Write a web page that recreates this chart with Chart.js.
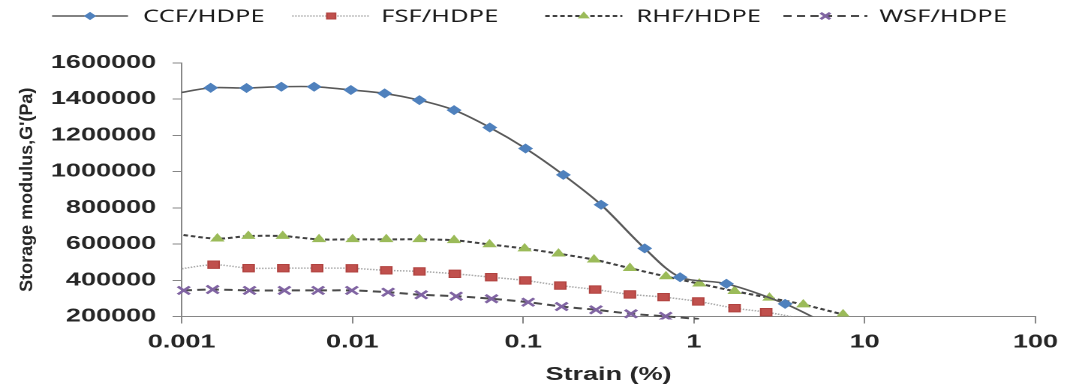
<!DOCTYPE html>
<html><head><meta charset="utf-8">
<script src="https://cdn.jsdelivr.net/npm/chart.js@4.4.1/dist/chart.umd.min.js"></script>
<style>html,body{margin:0;padding:0;background:#fff;overflow:hidden}</style></head>
<body>
<canvas id="c" width="713" height="389" style="width:1070px;height:389px;display:block"></canvas>
<script>
// ---- data ----
const seriesNames = ['CCF/HDPE', 'FSF/HDPE', 'RHF/HDPE', 'WSF/HDPE'];

const ccfStrain  = [0.00093, 0.00148, 0.0024, 0.00384, 0.00597, 0.0098, 0.01545, 0.0247, 0.0394, 0.0638, 0.1033, 0.172, 0.286, 0.515, 0.83, 1.55, 3.42, 6.0];
const ccfModulus = [1432000, 1463000, 1462000, 1469000, 1469000, 1451000, 1432000, 1395000, 1340000, 1244000, 1128000, 982000, 817000, 576000, 417000, 381000, 270000, 158000];

const fsfStrain  = [0.00093, 0.00154, 0.00247, 0.00394, 0.00622, 0.00993, 0.0158, 0.0247, 0.0398, 0.065, 0.103, 0.165, 0.264, 0.422, 0.665, 1.06, 1.73, 2.65, 4.3];
const fsfModulus = [459000, 486000, 467000, 467000, 467000, 466000, 455000, 449000, 436000, 417000, 399000, 371000, 349000, 322000, 307000, 283000, 246000, 224000, 188000];

const rhfStrain  = [0.00093, 0.00162, 0.00246, 0.00391, 0.00638, 0.01003, 0.0158, 0.0247, 0.0394, 0.0636, 0.102, 0.161, 0.26, 0.422, 0.686, 1.076, 1.73, 2.77, 4.37, 7.47];
const rhfModulus = [655000, 630000, 644000, 644000, 626000, 626000, 626000, 626000, 621000, 598000, 575000, 547000, 514000, 467000, 421000, 381000, 340000, 303000, 266000, 211000];

const wsfStrain  = [0.00103, 0.00152, 0.0025, 0.004, 0.0063, 0.00993, 0.0162, 0.0253, 0.0405, 0.0653, 0.107, 0.168, 0.267, 0.428, 0.683, 1.07];
const wsfModulus = [344000, 349000, 344000, 344000, 344000, 344000, 334000, 320000, 312000, 298000, 279000, 255000, 237000, 215000, 201000, 186000];

const xTickValues = [0.001, 0.01, 0.1, 1, 10, 100];
const yTickValues = [200000, 400000, 600000, 800000, 1000000, 1200000, 1400000, 1600000];
const xTitle = 'Strain (%)';
const yTitle = "Storage modulus,G'(Pa)";

// ---- presentation ----
const STRETCH = 1070 / 713;   // the reference is horizontally stretched
const AXIS = '#868686';
const TXT = '#262626';
const tickFont = {family: 'Liberation Sans', size: 18, weight: 'bold'};
const X_MIN = xTickValues[0], X_MAX = xTickValues[xTickValues.length - 1];
const Y_MIN = yTickValues[0], Y_MAX = yTickValues[yTickValues.length - 1];

function pts(xs, ys) { return xs.map((x, i) => ({x: x, y: ys[i]})); }
// markers outside the plot area are not shown (as in the spreadsheet original)
function markerRadius(r) {
  return c => (c.raw && (c.raw.y < Y_MIN || c.raw.x < X_MIN)) ? 0 : r;
}

const datasets = [
  {label: seriesNames[0], data: pts(ccfStrain, ccfModulus),
   borderColor: '#595959', borderWidth: 1.6, borderDash: [],
   pointStyle: 'rectRot', r: 4.3, pointBackgroundColor: '#4f81bd', pointBorderColor: '#4f81bd', pointBorderWidth: 1},
  {label: seriesNames[1], data: pts(fsfStrain, fsfModulus),
   borderColor: '#a6a6a6', borderWidth: 1.5, borderDash: [1, 1],
   pointStyle: 'rect', r: 5.2, pointBackgroundColor: '#c0504d', pointBorderColor: '#b0423f', pointBorderWidth: 1},
  {label: seriesNames[2], data: pts(rhfStrain, rhfModulus),
   borderColor: '#404040', borderWidth: 2, borderDash: [3, 2],
   pointStyle: 'triangle', r: 4.6, pointBackgroundColor: '#9bbb59', pointBorderColor: '#9bbb59', pointBorderWidth: 1},
  {label: seriesNames[3], data: pts(wsfStrain, wsfModulus),
   borderColor: '#4a4a4a', borderWidth: 2, borderDash: [5.5, 3.5],
   pointStyle: 'crossRot', r: 5.6, pointBackgroundColor: '#8064a2', pointBorderColor: '#8064a2', pointBorderWidth: 2.2,
   clip: {left: 8, right: 0, top: 0, bottom: 3}}
];
datasets.forEach(d => {
  d.fill = false; d.tension = 0.3;
  d.pointRadius = markerRadius(d.r); d.pointHoverRadius = markerRadius(d.r);
});

// legend layout (logical px)
const legendItems = [
  {x1: 34.7, x2: 85.3, tx: 95.3},
  {x1: 194.7, x2: 246.7, tx: 254},
  {x1: 363.3, x2: 414.7, tx: 424},
  {x1: 522, x2: 578, tx: 586}
];

const legendPlugin = {
  id: 'lineLegend',
  afterDraw(chart) {
    const ctx = chart.ctx;
    const y = 16;
    chart.data.datasets.forEach((ds, i) => {
      const it = legendItems[i];
      ctx.save();
      ctx.strokeStyle = ds.borderColor;
      ctx.lineWidth = ds.borderWidth;
      ctx.setLineDash(ds.borderDash || []);
      ctx.beginPath(); ctx.moveTo(it.x1, y); ctx.lineTo(it.x2, y); ctx.stroke();
      ctx.setLineDash([]);
      ctx.fillStyle = ds.pointBackgroundColor;
      ctx.strokeStyle = ds.pointBorderColor;
      ctx.lineWidth = ds.pointBorderWidth;
      Chart.helpers.drawPoint(ctx, {pointStyle: ds.pointStyle, radius: ds.r * 0.8, rotation: 0, borderWidth: ds.pointBorderWidth}, (it.x1 + it.x2) / 2, y);
      ctx.fillStyle = '#1a1a1a';
      ctx.font = '17px "Noto Sans"';
      ctx.textAlign = 'left';
      ctx.textBaseline = 'middle';
      ctx.fillText(ds.label, it.tx, y + 1);
      ctx.restore();
    });
  }
};

const yTitlePlugin = {
  id: 'yTitle',
  afterDraw(chart) {
    const ctx = chart.ctx;
    const a = chart.chartArea;
    ctx.save();
    ctx.translate(18, (a.top + a.bottom) / 2);
    ctx.scale(1 / STRETCH, 1);
    ctx.rotate(-Math.PI / 2);
    ctx.fillStyle = TXT;
    ctx.font = 'bold 18px "Liberation Sans"';
    ctx.textAlign = 'center';
    ctx.textBaseline = 'middle';
    ctx.fillText(yTitle, 0, 0);
    ctx.restore();
  }
};

new Chart(document.getElementById('c'), {
  type: 'line',
  data: {datasets: datasets},
  plugins: [legendPlugin, yTitlePlugin],
  options: {
    responsive: false,
    devicePixelRatio: 2,
    animation: false,
    events: [],
    layout: {padding: {top: 63, right: 16, left: 0, bottom: 0}},
    plugins: {legend: {display: false}, tooltip: {enabled: false}, title: {display: false}},
    scales: {
      x: {
        type: 'logarithmic', position: 'bottom', min: X_MIN, max: X_MAX,
        afterBuildTicks: s => { s.ticks = xTickValues.map(v => ({value: v})); },
        afterFit: s => { s.height = 72.5; },
        grid: {display: true, drawOnChartArea: false, drawTicks: true, tickLength: 7, color: AXIS, tickColor: AXIS},
        border: {display: true, color: AXIS, width: 1},
        ticks: {autoSkip: false, maxRotation: 0, padding: 8, color: TXT, font: tickFont, callback: v => String(v)},
        title: {display: true, text: xTitle, color: TXT, font: {family: 'Liberation Sans', size: 18, weight: 'bold'}, padding: {top: 0, bottom: 3}}
      },
      y: {
        type: 'linear', min: Y_MIN, max: Y_MAX,
        afterBuildTicks: s => { s.ticks = yTickValues.map(v => ({value: v})); },
        afterFit: s => { s.width = 121; },
        grid: {display: true, drawOnChartArea: false, drawTicks: true, tickLength: 6, color: AXIS, tickColor: AXIS},
        border: {display: true, color: AXIS, width: 1},
        ticks: {padding: 11, color: TXT, font: tickFont, callback: v => String(v)},
        title: {display: false}
      }
    }
  }
});
</script>
</body></html>
